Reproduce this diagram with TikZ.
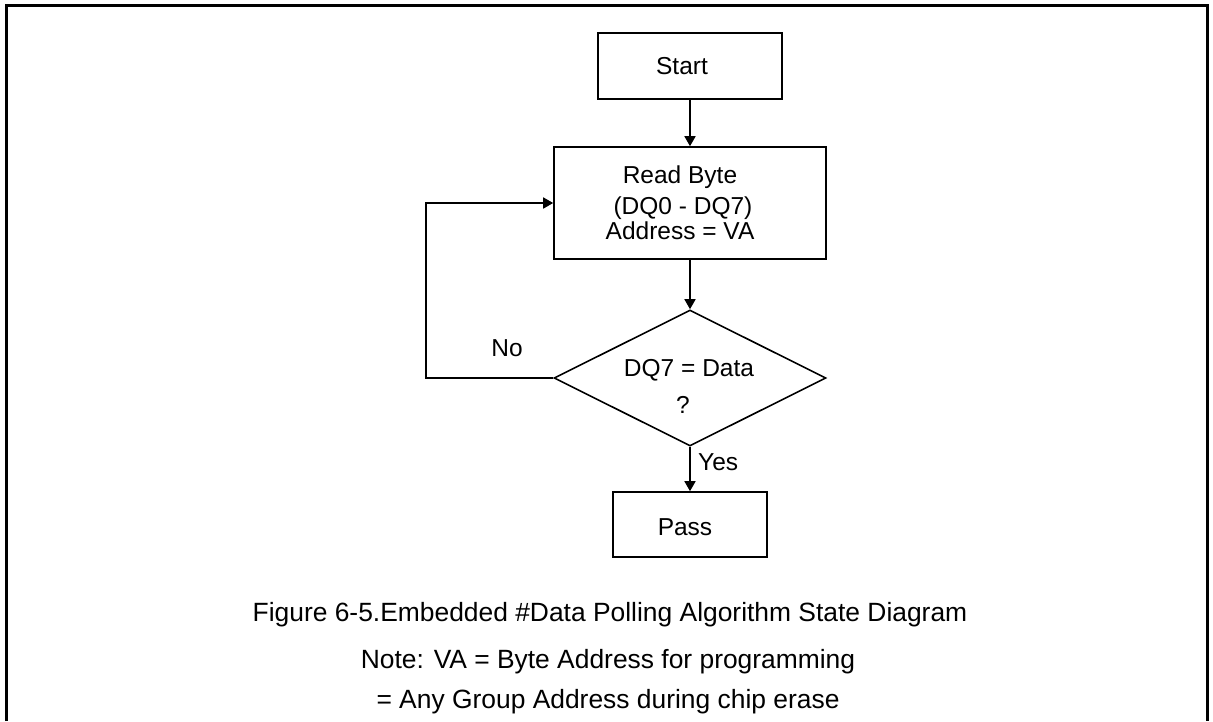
\documentclass[tikz,border=0pt]{standalone}
\usepackage{fontspec}
\setmainfont{Liberation Sans}
\usetikzlibrary{shapes.geometric,arrows.meta}
\begin{document}
\begin{tikzpicture}[x=1pt,y=-1pt,
  box/.style={draw,line width=1.6pt,inner sep=0pt},
  lbl/.style={font=\fontsize{24.5}{28}\selectfont,inner sep=0pt},
  captext/.style={font=\fontsize{26.4}{30}\selectfont,inner sep=0pt},
  arr/.style={line width=1.6pt,-{Triangle[length=10pt,width=11pt]}}]
\useasboundingbox (0,0) rectangle (1213,721);
\draw[line width=3pt] (6,721) -- (6,5) -- (1207,5) -- (1207,721);
% boxes
\node[box,minimum width=184pt,minimum height=66pt] (start) at (690,66) {};
\node[lbl] (tstart) at (682,66) {Start};
\node[box,minimum width=272pt,minimum height=112pt] (read) at (690,203) {};
\node[lbl] (t1) at (680,177) {Read Byte};
\node[lbl] (t2) at (683,208) {(DQ0 - DQ7)};
\node[lbl] (t3) at (680,231) {Address = VA};
\node[draw,diamond,line width=1.6pt,minimum width=272pt,minimum height=136pt,inner sep=0pt] (dia) at (690,378) {};
\node[lbl] (d1) at (689,370) {DQ7 = Data};
\node[lbl] (d2) at (683,405) {?};
\node[box,minimum width=154pt,minimum height=65pt] (pass) at (690,524.5) {};
\node[lbl] (tpass) at (685,527) {Pass};
% connectors
\draw[arr] (start.south) -- (read.north);
\draw[arr] (read.south) -- (dia.north);
\draw[arr] (dia.south) -- (pass.north);
\coordinate (lp) at (426,378);
\draw[arr] (dia.west) -- (dia.west -| lp) |- (read.west);
\node[lbl] (no) at (507,348) {No};
\node[lbl,anchor=west] (yes) at (698,462) {Yes};
% caption
\node[captext] (c1) at (610,615) {Figure 6-5.Embedded \#Data Polling Algorithm State Diagram};
\node[captext] (c2) at (608,662) {Note: VA = Byte Address for programming};
\node[captext] (c3) at (608,702) {= Any Group Address during chip erase};
\end{tikzpicture}
\end{document}
